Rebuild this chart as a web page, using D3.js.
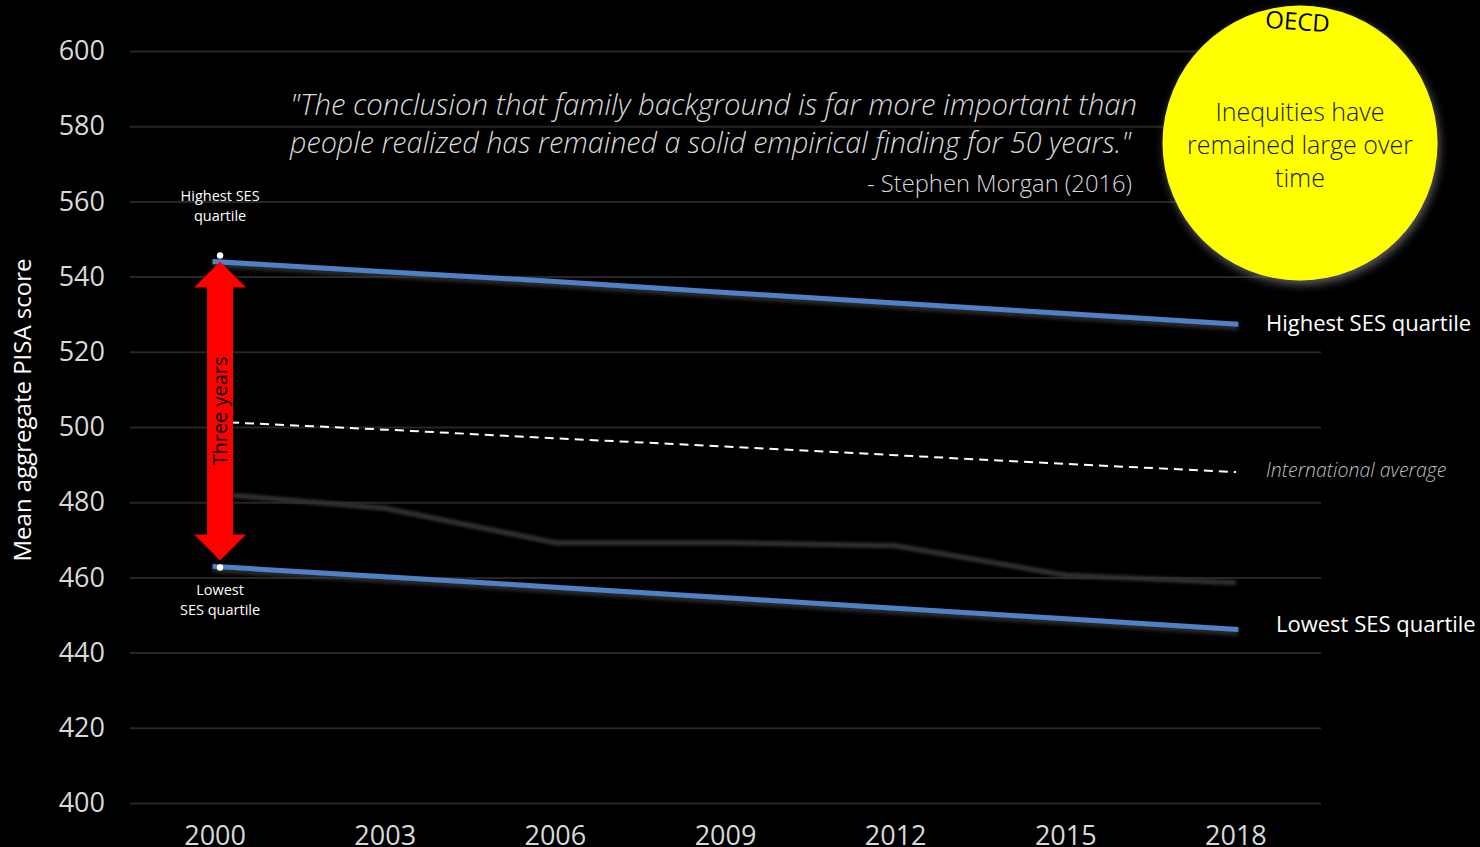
<!DOCTYPE html>
<html>
<head>
<meta charset="utf-8">
<script src="https://cdn.jsdelivr.net/npm/d3@7"></script>
<style>
  html, body { margin: 0; padding: 0; background: #000; }
  svg { display: block; }
</style>
</head>
<body>
<svg id="chart" width="1480" height="847"></svg>
<script>
// PISA scores by socio-economic quartile
const years = ["2000", "2003", "2006", "2009", "2012", "2015", "2018"];
const highestSES = [544.0, 541.3, 538.7, 535.8, 533.0, 530.2, 527.4];
const lowestSES = [462.9, 460.2, 457.4, 454.6, 451.8, 449.0, 446.2];
const intlAverage = [501.4, 499.3, 497.0, 494.8, 492.5, 490.2, 488.0];
const backgroundSeries = [482.2, 478.4, 469.2, 469.2, 468.4, 460.6, 458.6];
const yTicks = [400, 420, 440, 460, 480, 500, 520, 540, 560, 580, 600];

const svg = d3.select("#chart");
const font = "'Open Sans', 'Noto Sans', sans-serif";

const y = d3.scaleLinear().domain([400, 600]).range([803, 51]);
const xBand = d3.scaleBand().domain(years).range([130, 1321]);
const x = d => xBand(d) + xBand.bandwidth() / 2;

// filters
const defs = svg.append("defs");
const sh = defs.append("filter").attr("id", "lineShadow")
  .attr("x", "-5%").attr("y", "-50%").attr("width", "110%").attr("height", "200%");
sh.append("feDropShadow").attr("dx", 0).attr("dy", 3).attr("stdDeviation", 2)
  .attr("flood-color", "#3a3a3a").attr("flood-opacity", 0.9);
const soft = defs.append("filter").attr("id", "soft")
  .attr("x", "-5%").attr("y", "-100%").attr("width", "110%").attr("height", "300%");
soft.append("feGaussianBlur").attr("stdDeviation", 1.6);
const glow = defs.append("filter").attr("id", "glow")
  .attr("x", "-20%").attr("y", "-20%").attr("width", "140%").attr("height", "140%");
glow.append("feDropShadow").attr("dx", 2).attr("dy", 4).attr("stdDeviation", 5)
  .attr("flood-color", "#777").attr("flood-opacity", 0.8);

// gridlines
const yAxis = d3.axisLeft(y).tickValues(yTicks).tickSize(-(1321 - 130)).tickPadding(25);
const gy = svg.append("g").attr("transform", "translate(130,0)").call(yAxis);
gy.select(".domain").remove();
gy.selectAll(".tick line").attr("stroke", "#262626").attr("stroke-width", 2);
gy.selectAll(".tick text").attr("fill", "#d9d9d9").attr("font-size", 27)
  .attr("font-family", font);

// x axis labels
const xAxis = d3.axisBottom(xBand).tickSize(0).tickPadding(14);
const gx = svg.append("g").attr("transform", "translate(0,812)").call(xAxis);
gx.select(".domain").remove();
gx.selectAll(".tick text").attr("fill", "#d9d9d9").attr("font-size", 27)
  .attr("font-family", font);

// y axis title
svg.append("text")
  .attr("transform", "translate(31,410) rotate(-90)")
  .attr("text-anchor", "middle").attr("fill", "#fff")
  .attr("font-size", 24).attr("font-family", font)
  .text("Mean aggregate PISA score");

const line = d3.line().x((d, i) => x(years[i])).y(d => y(d));

// faint background series
svg.append("path").datum(backgroundSeries)
  .attr("d", line).attr("fill", "none")
  .attr("stroke", "#333").attr("stroke-width", 5)
  .attr("filter", "url(#soft)");

// international average
svg.append("path").datum(intlAverage)
  .attr("d", line).attr("fill", "none")
  .attr("stroke", "#fff").attr("stroke-width", 2)
  .attr("stroke-dasharray", "9,6");

// quartile lines
[highestSES, lowestSES].forEach(s => {
  svg.append("path").datum(s)
    .attr("d", line).attr("fill", "none")
    .attr("stroke", "#4f81c7").attr("stroke-width", 5)
    .attr("stroke-linecap", "square")
    .attr("filter", "url(#lineShadow)");
});

// double-headed red arrow between the quartiles in 2000
const ax = x("2000") + 5;
const yTop = y(highestSES[0]);
const yBot = y(lowestSES[0]) - 6;
const headH = 26, headW = 26, shaftW = 13;
const arrowPts = [
  [ax, yTop], [ax + headW, yTop + headH], [ax + shaftW, yTop + headH],
  [ax + shaftW, yBot - headH], [ax + headW, yBot - headH], [ax, yBot],
  [ax - headW, yBot - headH], [ax - shaftW, yBot - headH],
  [ax - shaftW, yTop + headH], [ax - headW, yTop + headH]
];
svg.append("path").attr("d", d3.line()(arrowPts) + "Z").attr("fill", "#ff0000");
svg.append("text")
  .attr("transform", `translate(${ax + 7},${(yTop + yBot) / 2}) rotate(-90)`)
  .attr("text-anchor", "middle").attr("fill", "#000")
  .attr("font-size", 20).attr("font-family", font)
  .text("Three years");

// endpoint dots
svg.append("circle").attr("cx", ax).attr("cy", yTop - 6).attr("r", 3.2).attr("fill", "#fff");
svg.append("circle").attr("cx", ax).attr("cy", y(lowestSES[0]) + 1).attr("r", 3.2).attr("fill", "#fff");

// small labels at 2000
const small = (lines, cx, cy) => {
  const t = svg.append("text").attr("text-anchor", "middle").attr("fill", "#fff")
    .attr("font-size", 14.5).attr("font-family", font);
  lines.forEach((s, i) => t.append("tspan").attr("x", cx).attr("y", cy + i * 19.5).text(s));
};
small(["Highest SES", "quartile"], ax, 201);
small(["Lowest", "SES quartile"], ax, 595);

// right-side series labels
svg.append("text").attr("x", 1266).attr("y", 331).attr("fill", "#fff")
  .attr("font-size", 22).attr("font-family", font).text("Highest SES quartile");
svg.append("text").attr("x", 1276).attr("y", 632).attr("fill", "#fff")
  .attr("font-size", 22).attr("font-family", font).text("Lowest SES quartile");
svg.append("text").attr("x", 1266).attr("y", 477).attr("fill", "#bfbfbf")
  .attr("font-size", 19.5).attr("font-style", "italic").attr("font-weight", 300)
  .attr("font-family", font).text("International average");

// quote
const quote = [
  "\"The conclusion that family background is far more important than",
  "people realized has remained a solid empirical finding for 50 years.\""
];
const qLens = [847, 841];
quote.forEach((q, i) => {
  svg.append("text").attr("x", 290).attr("y", 115 + i * 38)
    .attr("fill", "#d9d9d9").attr("font-size", 29).attr("font-style", "italic")
    .attr("font-weight", 300).attr("font-family", font)
    .attr("textLength", qLens[i]).attr("lengthAdjust", "spacingAndGlyphs")
    .text(q);
});
svg.append("text").attr("x", 1132).attr("y", 192).attr("text-anchor", "end")
  .attr("fill", "#d9d9d9").attr("font-size", 24).attr("font-weight", 300)
  .attr("font-family", font).attr("textLength", 265).attr("lengthAdjust", "spacingAndGlyphs")
  .text("- Stephen Morgan (2016)");

// yellow callout
svg.append("circle").attr("cx", 1300).attr("cy", 143).attr("r", 137.5)
  .attr("fill", "#ffff00").attr("filter", "url(#glow)");
svg.append("text").attr("transform", "translate(1297,30) rotate(4)")
  .attr("text-anchor", "middle").attr("fill", "#000")
  .attr("font-size", 24).attr("font-family", font).text("OECD");
const callout = svg.append("text").attr("text-anchor", "middle").attr("fill", "#1a1a1a")
  .attr("font-size", 25).attr("font-weight", 300).attr("font-family", font);
["Inequities have", "remained large over", "time"].forEach((s, i) =>
  callout.append("tspan").attr("x", 1300).attr("y", 121 + i * 33).text(s));
</script>
</body>
</html>
